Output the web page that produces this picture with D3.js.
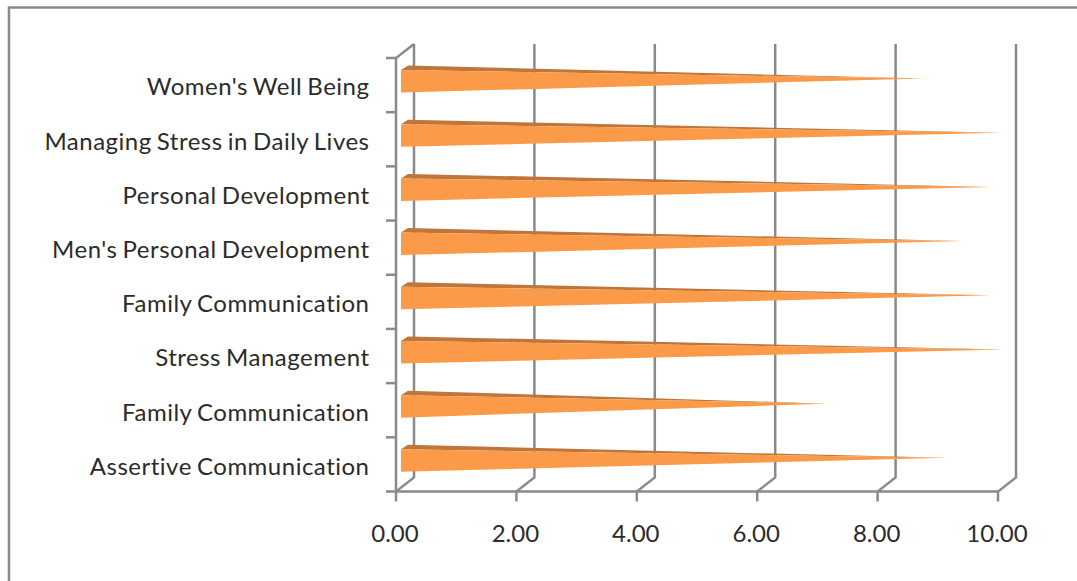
<!DOCTYPE html>
<html>
<head>
<meta charset="utf-8">
<script src="https://cdn.jsdelivr.net/npm/d3@7/dist/d3.min.js"></script>
<style>
html, body { margin: 0; padding: 0; background: #fff; }
svg { display: block; }
text { font-family: Lato, "Open Sans", sans-serif; fill: #2b2b2b; }
</style>
</head>
<body>
<svg id="chart" width="1077" height="581"></svg>
<script>
// Program ratings, listed from the top row to the bottom row
const programs = [
  "Women's Well Being",
  "Managing Stress in Daily Lives",
  "Personal Development",
  "Men's Personal Development",
  "Family Communication",
  "Stress Management",
  "Family Communication",
  "Assertive Communication"
];
const ratings = [8.63, 9.92, 9.76, 9.27, 9.74, 9.96, 7.01, 9.0];
const tickValues = [0, 2, 4, 6, 8, 10];

const svg = d3.select("#chart");
const gridColor = "#8a8a8a";

// Front plane of the pseudo-3D plot box, and the shift to its back wall
const x = d3.scaleLinear().domain([0, 10]).range([396, 998]);
const y = d3.scaleBand().domain(d3.range(programs.length)).range([58, 491.5]);
const depthX = 18, depthY = -14;

// Outer frame: only the top and left edges are visible
svg.append("path")
  .attr("d", "M9,581V7.5H1077")
  .attr("fill", "none")
  .attr("stroke", gridColor)
  .attr("stroke-width", 2.5);

// Back wall gridlines, each with its floor segment and tick
const grid = svg.append("g").attr("fill", "none").attr("stroke", gridColor).attr("stroke-width", 2.5);
grid.selectAll("path.wall")
  .data(tickValues)
  .join("path")
  .attr("class", "wall")
  .attr("d", v => {
    const px = x(v), bottom = y.range()[1], top = y.range()[0];
    return `M${px},${bottom + 10}V${bottom}L${px + depthX},${bottom + depthY}V${top + depthY}`;
  });

// Left and bottom axes of the front plane
const bandEdges = d3.range(programs.length + 1).map(i => y.range()[0] + i * y.step());
grid.append("path")
  .attr("d", `M${x(0)},${y.range()[1]}V${y.range()[0]}L${x(0) + depthX},${y.range()[0] + depthY}`);
grid.append("path")
  .attr("d", `M${x(0)},${y.range()[1]}H${x(10)}`);
grid.selectAll("line.tick")
  .data(bandEdges)
  .join("line")
  .attr("class", "tick")
  .attr("x1", x(0) - 10)
  .attr("x2", x(0))
  .attr("y1", d => d)
  .attr("y2", d => d);

// Pyramid bars: a lit front face and a darker top face meeting at the tip
const bars = svg.append("g").selectAll("g")
  .data(ratings)
  .join("g")
  .attr("transform", (d, i) => `translate(0,${y(i)})`);

const baseX = x(0) + 5;
const tipX = d => x(d) + 9;
bars.append("path")
  .attr("fill", "#c0763a")
  .attr("d", d => `M${baseX},12L${baseX + 7},7.5L${tipX(d)},20.5Z`);
bars.append("path")
  .attr("fill", "#fb9a48")
  .attr("d", d => `M${baseX},12V34.5L${tipX(d)},20.5Z`);

// Category labels
svg.append("g").selectAll("text")
  .data(programs)
  .join("text")
  .attr("x", 369.5)
  .attr("y", (d, i) => y(i) + 29)
  .attr("dy", "0.35em")
  .attr("text-anchor", "end")
  .attr("font-size", 24)
  .attr("letter-spacing", 0.5)
  .attr("word-spacing", -1.5)
  .text(d => d);

// Value labels
svg.append("g").selectAll("text")
  .data(tickValues)
  .join("text")
  .attr("x", d => x(d) - 1)
  .attr("y", 534)
  .attr("dy", "0.35em")
  .attr("text-anchor", "middle")
  .attr("font-size", 24)
  .text(d => d3.format(".2f")(d));
</script>
</body>
</html>
